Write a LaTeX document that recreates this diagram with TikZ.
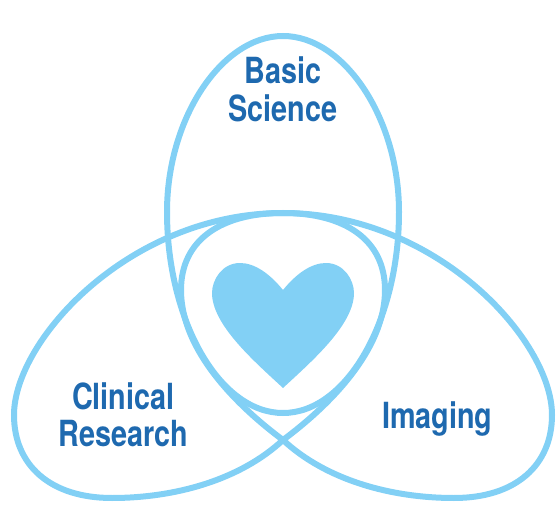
\documentclass[tikz,border=0pt]{standalone}
\usepackage{fontspec}
\setmainfont{TeX Gyre Heros}
\definecolor{ring}{RGB}{130,208,245}
\definecolor{lab}{RGB}{30,105,175}
\tikzset{petal/.style={draw=ring,line width=4.5pt},
lbl/.style={text=lab,font=\bfseries\fontsize{27}{28}\selectfont,align=center,inner sep=0pt,xscale=.8}}
\begin{document}
\begin{tikzpicture}[x=1pt,y=-1pt]
\useasboundingbox (0,0) rectangle (417.75,379.5);
\begin{scope}[scale=0.75]
% top petal
\draw[petal] (283,413) .. controls (219,413) and (167,320) .. (167,212) .. controls (167,118) and (222,36) .. (283,36) .. controls (344,36) and (399,118) .. (399,212) .. controls (399,320) and (347,413) .. (283,413) -- cycle;
% left petal
\draw[petal] (283,440) .. controls (240,480) and (175,498) .. (112,498) .. controls (50,498) and (14,465) .. (14,415) .. controls (14,340) and (130,213) .. (283,213) .. controls (345,213) and (385,240) .. (385,290) .. controls (385,350) and (330,405) .. (283,440) -- cycle;
% right petal
\draw[petal] (283,440) .. controls (326,480) and (391,498) .. (454,498) .. controls (516,498) and (552,465) .. (552,415) .. controls (552,340) and (436,213) .. (283,213) .. controls (221,213) and (181,240) .. (181,290) .. controls (181,350) and (236,405) .. (283,440) -- cycle;
% heart
\fill[ring] (283,290) .. controls (270,274) and (255,263) .. (240,263) .. controls (222,263) and (212,280) .. (212,293) .. controls (212,325) and (255,362) .. (283,388) .. controls (311,362) and (354,325) .. (354,293) .. controls (354,280) and (344,263) .. (326,263) .. controls (311,263) and (296,274) .. (283,290) -- cycle;
\end{scope}
\node[lbl] (a) at (212,67) {Basic\\Science};
\node[lbl] (b) at (92.5,311) {Clinical\\Research};
\node[lbl] (c) at (328,314) {Imaging};
\end{tikzpicture}
\end{document}
